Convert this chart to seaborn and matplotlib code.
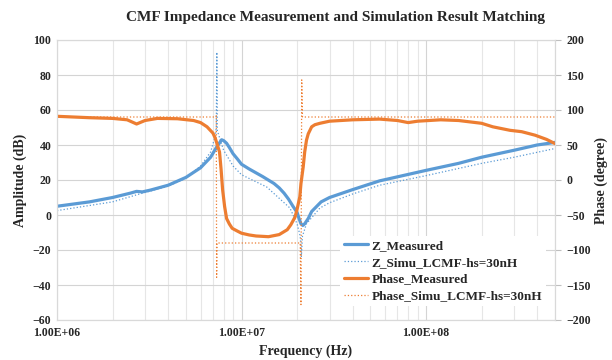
import matplotlib
matplotlib.use("Agg")
import matplotlib.pyplot as plt
import seaborn as sns
from matplotlib.ticker import FixedLocator, LogLocator, NullFormatter, FuncFormatter

# Z_Measured (dB)
freq_zm = [1e6, 1.5e6, 2e6, 2.5e6, 2.7e6, 2.9e6, 3.2e6, 4e6, 5e6, 6e6, 6.8e6, 7.3e6,
           7.8e6, 8e6, 8.3e6, 8.6e6, 9e6, 9.5e6, 1e7, 1.1e7, 1.3e7, 1.5e7, 1.6e7, 1.7e7,
           1.8e7, 1.9e7, 2e7, 2.05e7, 2.1e7, 2.15e7, 2.2e7, 2.3e7, 2.4e7,
           2.7e7, 3e7, 4e7, 5.6e7, 1e8, 1.5e8, 2e8, 3e8, 4e8, 5e8]
amp_zm = [5.0, 7.5, 10.0, 12.5, 13.5, 13.2, 14.2, 17.0, 21.5, 27.0, 33.0, 38.5,
          43.0, 42.5, 41.0, 38.5, 35.0, 32.0, 29.0, 26.3, 22.0, 18.0, 15.5, 12.5,
          9.0, 5.0, 1.5, -2.0, -5.0, -6.0, -5.0, -2.0, 2.0,
          7.5, 10.0, 14.5, 19.5, 25.5, 29.5, 33.0, 37.0, 40.0, 41.5]

# Z_Simu_LCMF-hs=30nH (dB)
freq_zs = [1e6, 2e6, 2.8e6, 4e6, 5e6, 6e6, 6.8e6, 7.2e6, 7.3e6, 7.35e6, 7.4e6, 8e6,
           9e6, 1e7, 1.37e7, 1.83e7, 2e7, 2.08e7, 2.11e7, 2.14e7, 2.25e7, 2.66e7,
           3e7, 4e7, 5.6e7, 1e8, 2e8, 3e8, 5e8]
amp_zs = [2.5, 7.5, 12.0, 16.5, 21.0, 28.0, 36.0, 45.0, 50.0, 93.0, 48.0, 37.0,
          28.0, 23.0, 16.0, 4.0, -5.0, -12.0, -24.0, -12.0, -5.0, 4.0,
          7.0, 12.0, 17.0, 22.5, 29.5, 33.0, 38.0]

# Phase_Measured (degree)
freq_pm = [1e6, 1.5e6, 2e6, 2.4e6, 2.7e6, 3e6, 3.5e6, 4.5e6, 5.5e6, 6e6, 6.5e6, 7e6,
           7.2e6, 7.4e6, 7.6e6, 7.75e6, 7.9e6, 8.1e6, 8.3e6, 8.6e6, 8.9e6, 9.5e6,
           1e7, 1.1e7, 1.2e7, 1.3e7, 1.4e7, 1.6e7, 1.77e7, 1.85e7, 1.95e7, 2e7,
           2.07e7, 2.1e7, 2.16e7, 2.2e7, 2.25e7, 2.3e7, 2.4e7, 2.5e7, 2.66e7, 3e7,
           4e7, 5.6e7, 7e7, 8e7, 9e7, 1.2e8, 1.5e8, 2e8, 2.3e8, 2.85e8, 3.3e8,
           3.9e8, 4.5e8, 5e8]
phase_pm = [91, 89, 88, 86, 80, 85, 88, 87.5, 85, 82, 76, 67,
            60, 50, 40, 15, -14, -38, -55, -63, -69, -73,
            -76, -78.5, -80, -80.5, -81, -78, -71, -64, -53, -42,
            -24, -5, 19, 40, 57, 66, 76, 79, 81, 84,
            86, 87, 85, 82, 84, 86, 85, 81, 76, 71, 69,
            64, 58, 52]

# Phase_Simu_LCMF-hs=30nH (degree)
freq_ps = [1e6, 7.25e6, 7.3e6, 7.33e6, 7.36e6, 2.08e7, 2.1e7, 2.12e7, 2.14e7, 5e8]
phase_ps = [90, 90, 92, -139, -90, -90, -178, 143, 90, 90]

sns.set_style("white")
plt.rcParams["font.family"] = ["Liberation Serif", "DejaVu Serif"]
plt.rcParams["font.weight"] = "bold"

blue = "#5B9BD5"
orange = "#ED7D31"

fig = plt.figure(figsize=(6.12, 3.6), dpi=100)
ax = fig.add_axes([57 / 612, 40 / 360, 498 / 612, 280 / 360])
ax2 = ax.twinx()

sns.lineplot(x=freq_zm, y=amp_zm, ax=ax, color=blue, lw=2.3, sort=False,
             estimator=None, legend=False, label="Z_Measured")
sns.lineplot(x=freq_zs, y=amp_zs, ax=ax, color=blue, lw=0.9, ls=":", sort=False,
             estimator=None, legend=False, label="Z_Simu_LCMF-hs=30nH")
sns.lineplot(x=freq_pm, y=phase_pm, ax=ax2, color=orange, lw=2.3, sort=False,
             estimator=None, legend=False, label="Phase_Measured")
sns.lineplot(x=freq_ps, y=phase_ps, ax=ax2, color=orange, lw=0.9, ls=":", sort=False,
             estimator=None, legend=False, label="Phase_Simu_LCMF-hs=30nH")

ax.set_xscale("log")
ax.set_xlim(1e6, 5e8)
ax.set_ylim(-60, 100)
ax2.set_ylim(-200, 200)
ax.set_yticks(range(-60, 101, 20))
ax2.set_yticks(range(-200, 201, 50))

ax.xaxis.set_major_locator(FixedLocator([1e6, 1e7, 1e8]))
ax.xaxis.set_major_formatter(FuncFormatter(lambda v, p: f"{v:.2E}"))
ax.xaxis.set_minor_locator(LogLocator(base=10, subs=range(2, 10), numticks=20))
ax.xaxis.set_minor_formatter(NullFormatter())

ax.grid(True, which="major", axis="both", color="#D4D4D4", lw=0.8)
ax.grid(True, which="minor", axis="x", color="#E6E6E6", lw=0.8)
ax2.grid(False)

for a in (ax, ax2):
    for s in a.spines.values():
        s.set_color("#D9D9D9")
        s.set_linewidth(0.8)

ax.tick_params(axis="both", which="both", length=0, labelsize=8.5, pad=4)
ax.tick_params(axis="x", pad=5)
ax2.tick_params(axis="y", length=4, color="#BFBFBF", labelsize=8.5, pad=4)

ax.set_xlabel("Frequency (Hz)", fontsize=10, fontweight="bold", labelpad=4)
ax.set_ylabel("Amplitude (dB)", fontsize=10, fontweight="bold", labelpad=4)
ax2.set_ylabel("Phase (degree)", fontsize=10, fontweight="bold", labelpad=3)

fig.text(335 / 612, 1 - 18 / 360, "CMF Impedance Measurement and Simulation Result Matching",
         ha="center", va="center", fontsize=11, fontweight="bold")

h1, l1 = ax.get_legend_handles_labels()
h2, l2 = ax2.get_legend_handles_labels()
leg = ax2.legend(h1 + h2, l1 + l2, loc="upper left", bbox_to_anchor=(0.555, 0.325),
                 frameon=True, facecolor="white", edgecolor="none", framealpha=1,
                 prop={"weight": "bold", "size": 9.5}, handlelength=1.8,
                 handletextpad=0.3, labelspacing=0.35, borderpad=0.3)

fig.savefig("out.png", dpi=100)
